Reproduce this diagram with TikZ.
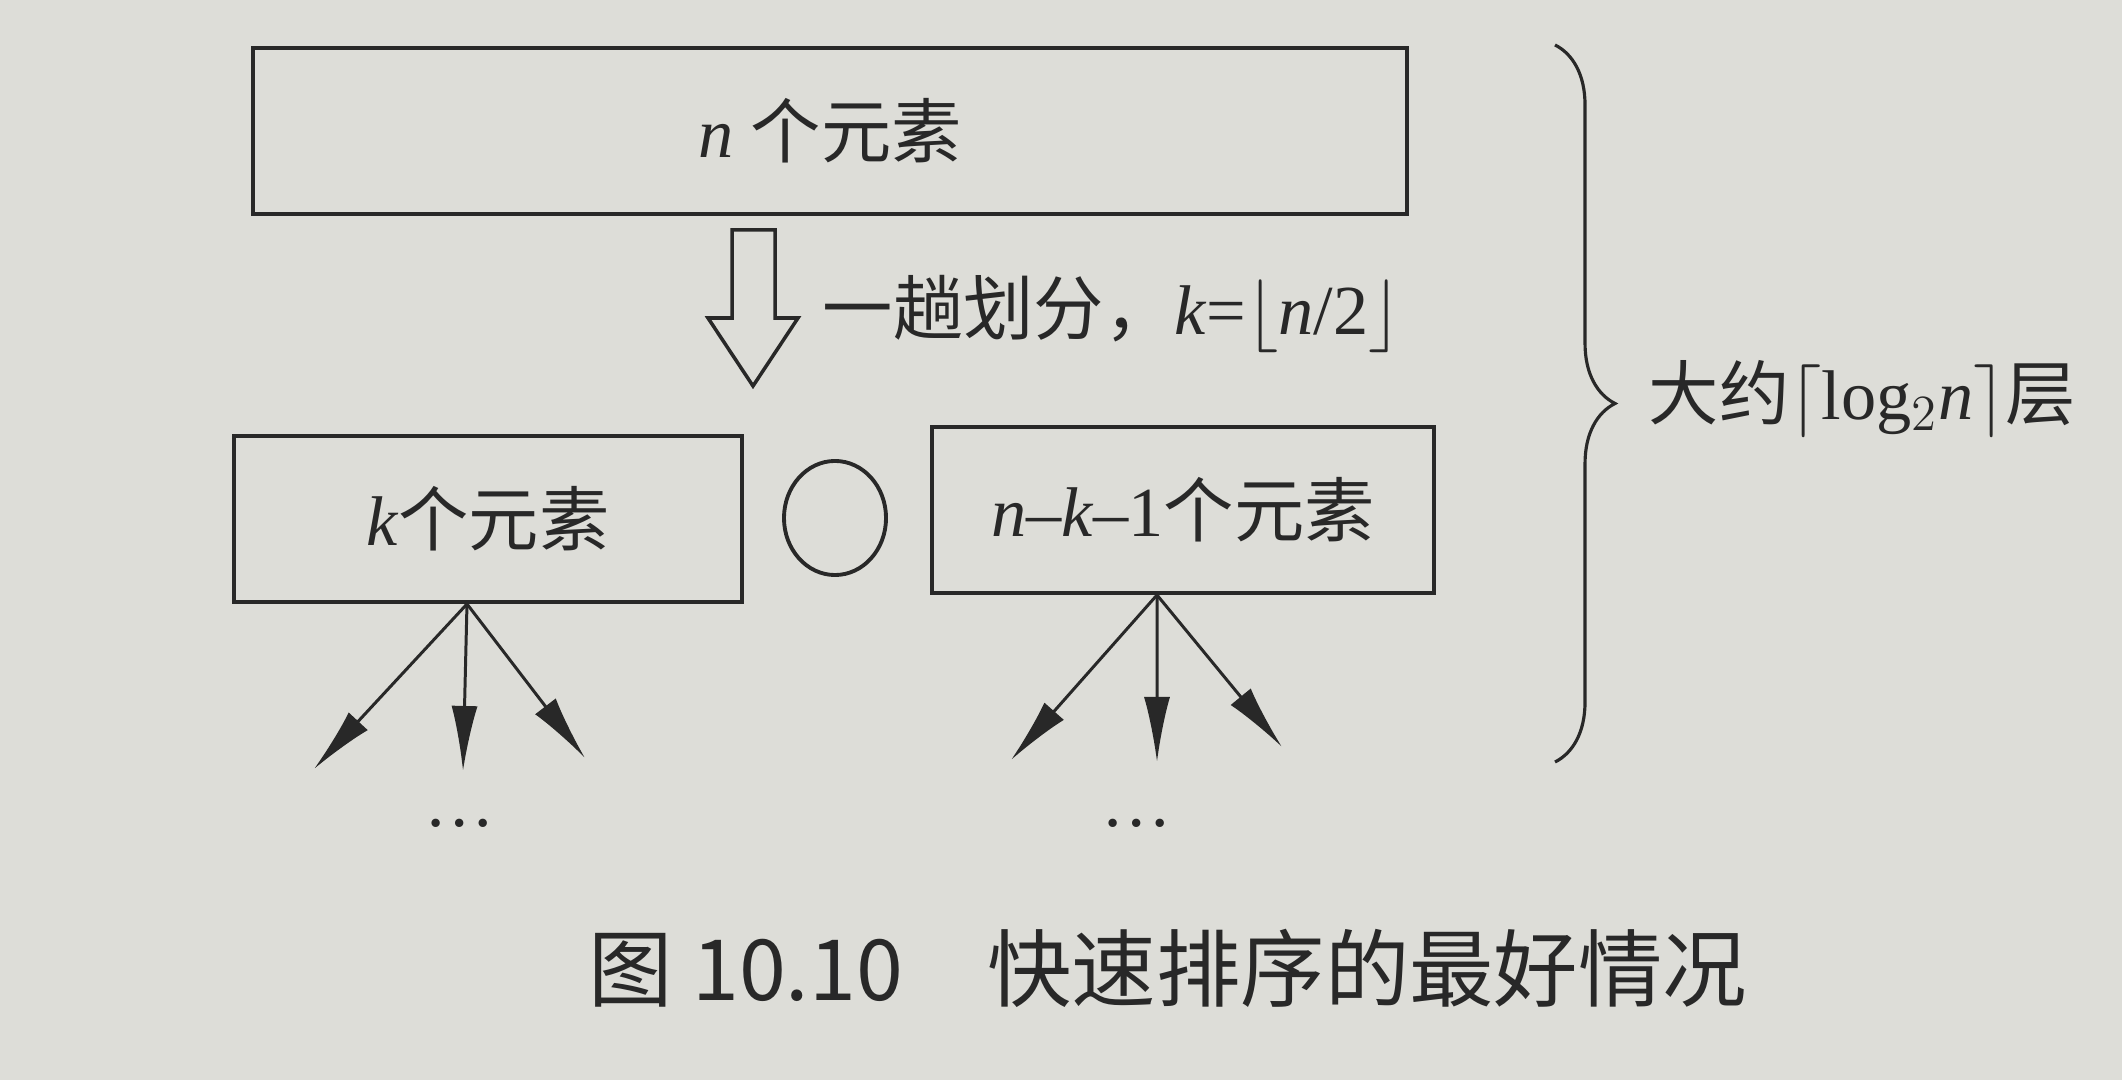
\documentclass[tikz,border=0pt]{standalone}
\usepackage{fontspec}
\setmainfont{Liberation Serif}
\newfontfamily\cjk{Noto Sans CJK SC}
\usetikzlibrary{arrows.meta}
\usetikzlibrary{shapes.geometric}
\usetikzlibrary{decorations.pathreplacing}
\definecolor{papier}{RGB}{221,221,216}
\definecolor{tinte}{RGB}{40,40,40}
\tikzset{
  kasten/.style={draw=tinte, line width=1.1pt, minimum height=1.66cm, inner sep=0pt, font=\fontsize{20}{24}\selectfont},
  zweig/.style={line width=0.85pt, -{Latex[length=6.5mm,width=2.6mm]}},
  beschrift/.style={anchor=west, inner sep=0pt, font=\fontsize{20}{24}\selectfont},
}

\begin{document}
\begin{tikzpicture}[x=0.01cm, y=-0.01cm, tinte]

    % Papier
    \fill[papier] (0,0) rectangle (2122,1080);

    \node[kasten, minimum width=11.54cm] (nbox) at (830,131) {\textit{n} {\cjk 个元素}};
    \node[kasten, minimum width=5.08cm] (kbox) at (488,519) {\textit{k}{\cjk 个元素}};
    \node[kasten, minimum width=5.02cm] (rbox) at (1183,510) {\textit{n}--\textit{k}--1{\cjk 个元素}};
    \node[draw, ellipse, line width=1.1pt, minimum width=1.02cm, minimum height=1.14cm] (pivot) at (835,518) {};

    % hohler Pfeil
    \draw[line width=1pt, fill=papier] (732,230) -- (775,230) -- (775,318) -- (798,318) -- (753,386) -- (708,318) -- (732,318) -- cycle;
    \node[beschrift] (teilung) at (822,314) {{\cjk 一趟划分，}\textit{k}=$\lfloor$\textit{n}/2$\rfloor$};

    % Zweige
    \coordinate (k1) at (314,769);
    \coordinate (k2) at (463,771);
    \coordinate (k3) at (585,758);
    \coordinate (r1) at (1011,760);
    \coordinate (r2) at (1157,762);
    \coordinate (r3) at (1282,747);
    \foreach \e in {k1,k2,k3}
        \draw[zweig] ([xshift=-0.21cm]kbox.south) -- (\e);
    \foreach \e in {r1,r2,r3}
        \draw[zweig] ([xshift=-0.26cm]rbox.south) -- (\e);
    \node[anchor=base, font=\fontsize{20}{24}\selectfont] (kdots) at (460,826) {\ldots};
    \node[anchor=base, font=\fontsize{20}{24}\selectfont] (rdots) at (1137,826) {\ldots};

    % Klammer
    \draw[decorate, decoration={brace, amplitude=0.6cm}, line width=0.9pt] (1555,45) -- (1555,762);
    \node[beschrift] (ebenen) at (1648,399) {{\cjk 大约}$\lceil$log$_2$\textit{n}$\rceil${\cjk 层}};

    % Unterschrift
    \node[font=\cjk\fontsize{24}{28}\selectfont] (titel) at (1168,968) {图 10.10　快速排序的最好情况};

\end{tikzpicture}
\end{document}
